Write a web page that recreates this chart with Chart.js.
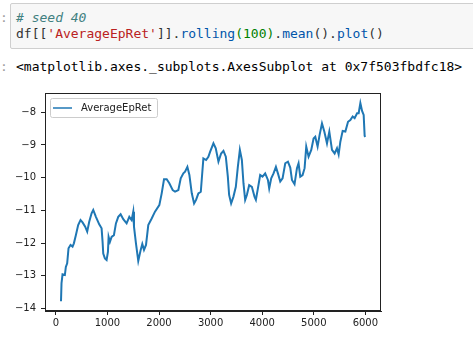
<!DOCTYPE html>
<html lang="en">
<head>
    <meta charset="UTF-8">
    <title>AverageEpRet rolling mean</title>
    <script src="https://cdn.jsdelivr.net/npm/chart.js"></script>
    <style>
        html, body {
            margin: 0;
            padding: 0;
            background: #fff;
            width: 473px;
            height: 338px;
            overflow: hidden;
            position: relative;
        }
        .prompt {
            position: absolute;
            left: 0;
            font-family: "DejaVu Sans Mono", monospace;
            font-size: 13px;
            color: #9e9e9e;
        }
        .input-box {
            position: absolute;
            left: 10px;
            top: 3px;
            width: 480px;
            height: 44px;
            background: #f7f7f7;
            border: 1px solid #cfcfcf;
            border-radius: 2px;
        }
        .code {
            position: absolute;
            left: 16px;
            font-family: "DejaVu Sans Mono", monospace;
            font-size: 13px;
            color: #333;
            white-space: pre;
            line-height: 16px;
        }
        .comment { color: #408080; font-style: italic; }
        .str { color: #ba2121; }
        .prop { color: #0055aa; }
        .num { color: #008000; }
        .out { color: #000; }
        #chartWrap {
            position: absolute;
            left: 0;
            top: 80px;
            width: 400px;
            height: 258px;
        }
    </style>
</head>
<body>
    <!-- code cell -->
    <div class="prompt" style="top:10px">:</div>
    <div class="input-box"></div>
    <div class="code" style="top:10px"><span class="comment"># seed 40</span></div>
    <div class="code" style="top:26px">df[[<span class="str">'AverageEpRet'</span>]].<span class="prop">rolling</span><span class="num">(100)</span>.<span class="prop">mean</span>().<span class="prop">plot</span>()</div>

    <!-- output -->
    <div class="prompt" style="top:59px">:</div>
    <div class="code out" style="top:59px">&lt;matplotlib.axes._subplots.AxesSubplot at 0x7f503fbdfc18&gt;</div>

    <div id="chartWrap"><canvas id="chart" width="400" height="258"></canvas></div>

    <script>
        // rolling(100) mean of AverageEpRet
        const steps = [
            100, 110, 130, 175, 194, 220, 246, 285, 324, 350,
            388, 433, 479, 518, 569, 608, 647, 693, 725, 777,
            841, 887, 906, 919, 951, 984, 1010, 1023, 1049, 1081,
            1126, 1165, 1210, 1256, 1307, 1372, 1424, 1469, 1501, 1515,
            1553, 1598, 1645, 1676, 1709, 1748, 1792, 1858, 1922, 2006,
            2052, 2097, 2149, 2200, 2266, 2311, 2375, 2421, 2472, 2505,
            2550, 2589, 2635, 2680, 2718, 2763, 2810, 2860, 2913, 2957,
            2990, 3055, 3100, 3152, 3204, 3249, 3295, 3334, 3359, 3398,
            3443, 3489, 3528, 3567, 3606, 3637, 3670, 3703, 3748, 3800,
            3851, 3878, 3917, 3961, 4006, 4058, 4111, 4136, 4175, 4220,
            4266, 4305, 4350, 4395, 4447, 4499, 4544, 4577, 4627, 4674,
            4705, 4738, 4783, 4822, 4854, 4899, 4951, 4996, 5029, 5074,
            5113, 5159, 5204, 5256, 5301, 5353, 5404, 5450, 5482, 5515,
            5560, 5612, 5664, 5709, 5754, 5792, 5839, 5870, 5903, 5936,
            5967, 5986, 6000
        ];
        const avgEpRet = [
            -13.78, -13.23, -12.96, -12.98, -12.73, -12.62, -12.16, -12.06, -12.11, -12.01,
            -11.76, -11.45, -11.30, -11.37, -11.50, -11.65, -11.35, -11.09, -10.99, -11.20,
            -11.43, -11.55, -11.96, -12.32, -12.47, -12.52, -12.27, -11.81, -11.96, -11.81,
            -11.76, -11.40, -11.20, -11.12, -11.27, -11.40, -11.20, -11.30, -11.04, -11.50,
            -12.01, -12.55, -12.21, -12.03, -12.21, -12.06, -11.45, -11.25, -11.04, -10.84,
            -10.48, -10.05, -10.05, -10.17, -10.38, -10.43, -10.38, -10.02, -9.87, -9.82,
            -9.67, -9.92, -10.48, -10.79, -10.68, -10.48, -10.43, -9.41, -9.46, -9.36,
            -9.21, -8.95, -9.10, -9.51, -9.26, -9.18, -9.36, -9.97, -10.53, -10.79,
            -10.58, -10.28, -9.67, -9.15, -9.46, -10.17, -10.68, -10.53, -10.23, -10.28,
            -10.58, -10.68, -10.33, -9.92, -9.97, -9.87, -10.07, -10.33, -10.02, -9.87,
            -9.67, -9.87, -10.12, -10.02, -9.56, -9.51, -9.69, -10.07, -10.20, -9.71,
            -9.56, -9.97, -9.92, -9.71, -9.05, -9.36, -9.15, -8.80, -8.75, -9.05,
            -8.69, -8.34, -8.59, -8.95, -8.59, -9.15, -9.26, -9.10, -9.29, -8.90,
            -8.57, -8.59, -8.29, -8.24, -8.13, -8.18, -8.03, -8.03, -7.72, -7.96,
            -8.08, -8.72, -8.75
        ];
        const xTicks = [0, 1000, 2000, 3000, 4000, 5000, 6000];
        const yTicks = [-14, -13, -12, -11, -10, -9, -8];
        const seriesName = 'AverageEpRet';

        const tickFont = { family: 'DejaVu Sans', size: 10 };
        const minus = v => v < 0 ? '\u2212' + Math.abs(v) : String(v);

        // matplotlib style frame + legend in the upper left
        const mplFrame = {
            id: 'mplFrame',
            afterDraw(chart) {
                const ctx = chart.ctx;
                const a = chart.chartArea;
                ctx.save();
                ctx.strokeStyle = '#222';
                ctx.lineWidth = 1;
                ctx.strokeRect(Math.round(a.left) + 0.5, Math.round(a.top) + 0.5,
                    Math.round(a.right - a.left) - 1, Math.round(a.bottom - a.top) - 1);

                // legend
                const lx = a.left + 5, ly = a.top + 5, lw = 107, lh = 19;
                ctx.fillStyle = 'rgba(255,255,255,0.8)';
                ctx.strokeStyle = '#cccccc';
                ctx.beginPath();
                ctx.roundRect(lx + 0.5, ly + 0.5, lw, lh, 2);
                ctx.fill();
                ctx.stroke();
                ctx.strokeStyle = '#1f77b4';
                ctx.lineWidth = 1.5;
                ctx.beginPath();
                ctx.moveTo(lx + 3, ly + 10);
                ctx.lineTo(lx + 22, ly + 10);
                ctx.stroke();
                ctx.fillStyle = '#222';
                ctx.font = '10px "DejaVu Sans"';
                ctx.textBaseline = 'middle';
                ctx.fillText(seriesName, lx + 31, ly + 10);
                ctx.restore();
            }
        };

        new Chart(document.getElementById('chart'), {
            type: 'line',
            data: {
                datasets: [{
                    label: seriesName,
                    data: steps.map((s, i) => ({ x: s, y: avgEpRet[i] })),
                    borderColor: '#1f77b4',
                    borderWidth: 2,
                    pointRadius: 0,
                    tension: 0,
                    fill: false
                }]
            },
            options: {
                responsive: false,
                animation: false,
                layout: { padding: { top: 13, right: 19, left: 0, bottom: 0 } },
                plugins: {
                    legend: { display: false },
                    tooltip: { enabled: false }
                },
                scales: {
                    x: {
                        type: 'linear',
                        min: -210,
                        max: 6303,
                        afterBuildTicks: s => { s.ticks = xTicks.map(v => ({ value: v })); },
                        afterFit: s => { s.height = 27; },
                        grid: { drawOnChartArea: false, tickLength: 4, color: '#222' },
                        border: { color: '#222' },
                        ticks: { font: tickFont, color: '#222', padding: 2, maxRotation: 0, callback: v => minus(v) }
                    },
                    y: {
                        min: -14.08,
                        max: -7.41,
                        afterBuildTicks: s => { s.ticks = yTicks.map(v => ({ value: v })); },
                        afterFit: s => { s.width = 45; },
                        grid: { drawOnChartArea: false, tickLength: 4, color: '#222' },
                        border: { color: '#222' },
                        ticks: { font: tickFont, color: '#222', padding: 5, callback: v => minus(v) }
                    }
                }
            },
            plugins: [mplFrame]
        });
    </script>
</body>
</html>
